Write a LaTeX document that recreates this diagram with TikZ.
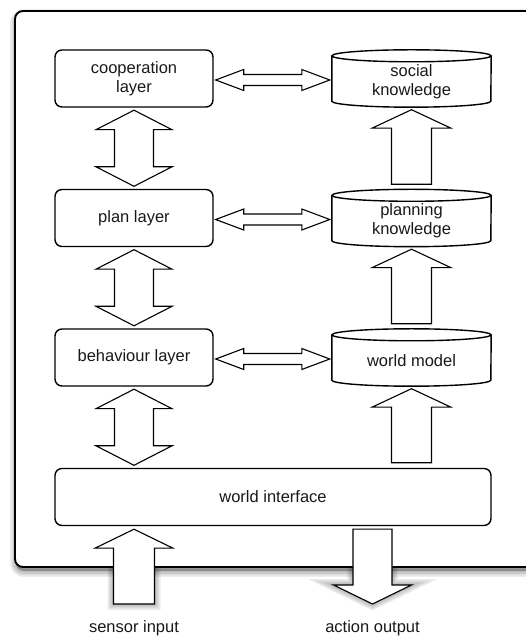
\documentclass[tikz,border=0pt]{standalone}
\usepackage{fontspec}
\setmainfont{Liberation Sans}
\usetikzlibrary{calc}
\pgfdeclarelayer{shade}
\pgfdeclarelayer{back}
\pgfsetlayers{shade,back,main}
\newcommand\labelfont{\fontsize{16.5}{19}\selectfont}

% cylinder outline drawn round a store node
\newcommand\storeoutline[1]{%
  \draw[rim] let \p1=(#1.north west), \p2=(#1.south east) in
    (\x1,\y1-6) -- (\x1,\y2+6) arc[start angle=180,end angle=360,x radius=79.5,y radius=6] -- (\x2,\y1-6);
  \draw[rim] ($(#1.north)+(0,-6)$) ellipse[x radius=79.5,y radius=6];}

% horizontal two-headed block arrow between a layer and its store
\newcommand\sidelink[2]{%
  \draw[fatarrow] let \p1=($(#1.east)+(0,-1.5)$), \p2=(#2.west) in
    (\x1+2,\y1) -- (\x1+30,\y1+10.5) -- (\x1+30,\y1+5.5) -- (\x2-30,\y1+5.5) -- (\x2-30,\y1+10.5)
    -- (\x2-2,\y1) -- (\x2-30,\y1-10.5) -- (\x2-30,\y1-5.5) -- (\x1+30,\y1-5.5) -- (\x1+30,\y1-10.5) -- cycle;}

% vertical two-headed block arrow between stacked layers
\newcommand\stacklink[2]{%
  \draw[fatarrow] let \p1=(#1.south), \p2=(#2.north) in
    (\x1,\y1-2.5) -- (\x1+38,\y1-22) -- (\x1+19.5,\y1-22) -- (\x1+19.5,\y2+22) -- (\x1+38,\y2+22)
    -- (\x1,\y2+2.5) -- (\x1-38,\y2+22) -- (\x1-19.5,\y2+22) -- (\x1-19.5,\y1-22) -- (\x1-38,\y1-22) -- cycle;}

% one-headed block arrow pointing up from #1 to #2
\newcommand\feedlink[2]{%
  \draw[fatarrow] let \p1=(#1.north), \p2=(#2.south) in
    (\x2-20,\y1+5) -- (\x2-20,\y2-21) -- (\x2-39.5,\y2-21) -- (\x2,\y2-2.5) -- (\x2+39.5,\y2-21)
    -- (\x2+20,\y2-21) -- (\x2+20,\y1+5) -- cycle;}

% input and output arrows of the world interface
\newcommand\sensorpath[1]{%
  \path[#1] let \p1=(sensorfoot), \p2=(world.south) in
    (\x1-20.5,\y1) -- (\x1-20.5,\y2-22) -- (\x1-39,\y2-22) -- (\x1,\y2-3) -- (\x1+39,\y2-22)
    -- (\x1+20.5,\y2-22) -- (\x1+20.5,\y1) -- cycle;}
\newcommand\actionpath[1]{%
  \path[#1] let \p1=(actiontip), \p2=(world.south) in
    (\x1-19.5,\y2-3) -- (\x1+19.5,\y2-3) -- (\x1+19.5,\y1+19) -- (\x1+39,\y1+19) -- (\x1,\y1)
    -- (\x1-39,\y1+19) -- (\x1-19.5,\y1+19) -- cycle;}

\begin{document}
\begin{tikzpicture}[x=1pt,y=1pt,
  every node/.style={font=\labelfont, text=black!90},
  layer/.style={draw, line width=1.4pt, rounded corners=7pt, fill=white,
    minimum width=158pt, minimum height=57pt, align=center, inner sep=0pt},
  store/.style={minimum width=159pt, minimum height=57pt, inner sep=0pt},
  storetext/.style={align=center, inner sep=0pt},
  rim/.style={line width=1.4pt},
  fatarrow/.style={draw, line width=1.1pt, fill=white, line join=miter},
  haze/.style={draw=black, draw opacity=0.07},
  hazecore/.style={fill=black, fill opacity=0.28},
  caption/.style={anchor=base}]

\useasboundingbox (0,0) rectangle (526,637);

% outer frame
\begin{pgfonlayer}{back}
  \draw[line width=1.9pt, fill=white, rounded corners=8pt] (15,70) rectangle (545,626);
\end{pgfonlayer}

% layers
\node[layer] (coop)  at (134,558.5) {cooperation\\layer};
\node[layer] (plan)  at (134,419)   {plan layer};
\node[layer] (behav) at (134,279.5) {behaviour layer};
\node[layer, minimum width=436pt] (world) at (273,140) {world interface};

% knowledge stores
\node[store] (social)  at (411.5,558.5) {};
\node[store] (plankb)  at (411.5,419)   {};
\node[store] (wmodel)  at (411.5,279.5) {};
\storeoutline{social}
\storeoutline{plankb}
\storeoutline{wmodel}
\node[storetext] (socialtext) at ([yshift=-3pt]social.center) {social\\knowledge};
\node[storetext] (plankbtext) at ([yshift=-3pt]plankb.center) {planning\\knowledge};
\node[storetext] (wmodeltext) at ([yshift=-3pt]wmodel.center) {world model};

% links
\sidelink{coop}{social}
\sidelink{plan}{plankb}
\sidelink{behav}{wmodel}
\stacklink{coop}{plan}
\stacklink{plan}{behav}
\stacklink{behav}{world}
\feedlink{plankb}{social}
\feedlink{wmodel}{plankb}
\feedlink{world}{wmodel}

% sensor input and action output
\coordinate (sensorfoot) at (134,33);
\coordinate (actiontip) at (372.5,33);
\sensorpath{fatarrow}
\actionpath{fatarrow}
\node[caption] (sensorlbl) at (134,4.5) {sensor input};
\node[caption] (actionlbl) at (372.5,4.5) {action output};

% soft drop shadows
\begin{pgfonlayer}{shade}
  \begin{scope}[shift={(1,-4)}]
    \fill[hazecore, rounded corners=8pt] (15,70) rectangle (545,626);
    \foreach \w in {12,9,6,3}{
      \draw[haze, line width=\w pt, rounded corners=8pt] (15,70) rectangle (545,626);
      \sensorpath{haze, line width=\w pt}
      \actionpath{haze, line width=\w pt}
    }
    \sensorpath{hazecore}
    \actionpath{hazecore}
  \end{scope}
\end{pgfonlayer}
\end{tikzpicture}
\end{document}
